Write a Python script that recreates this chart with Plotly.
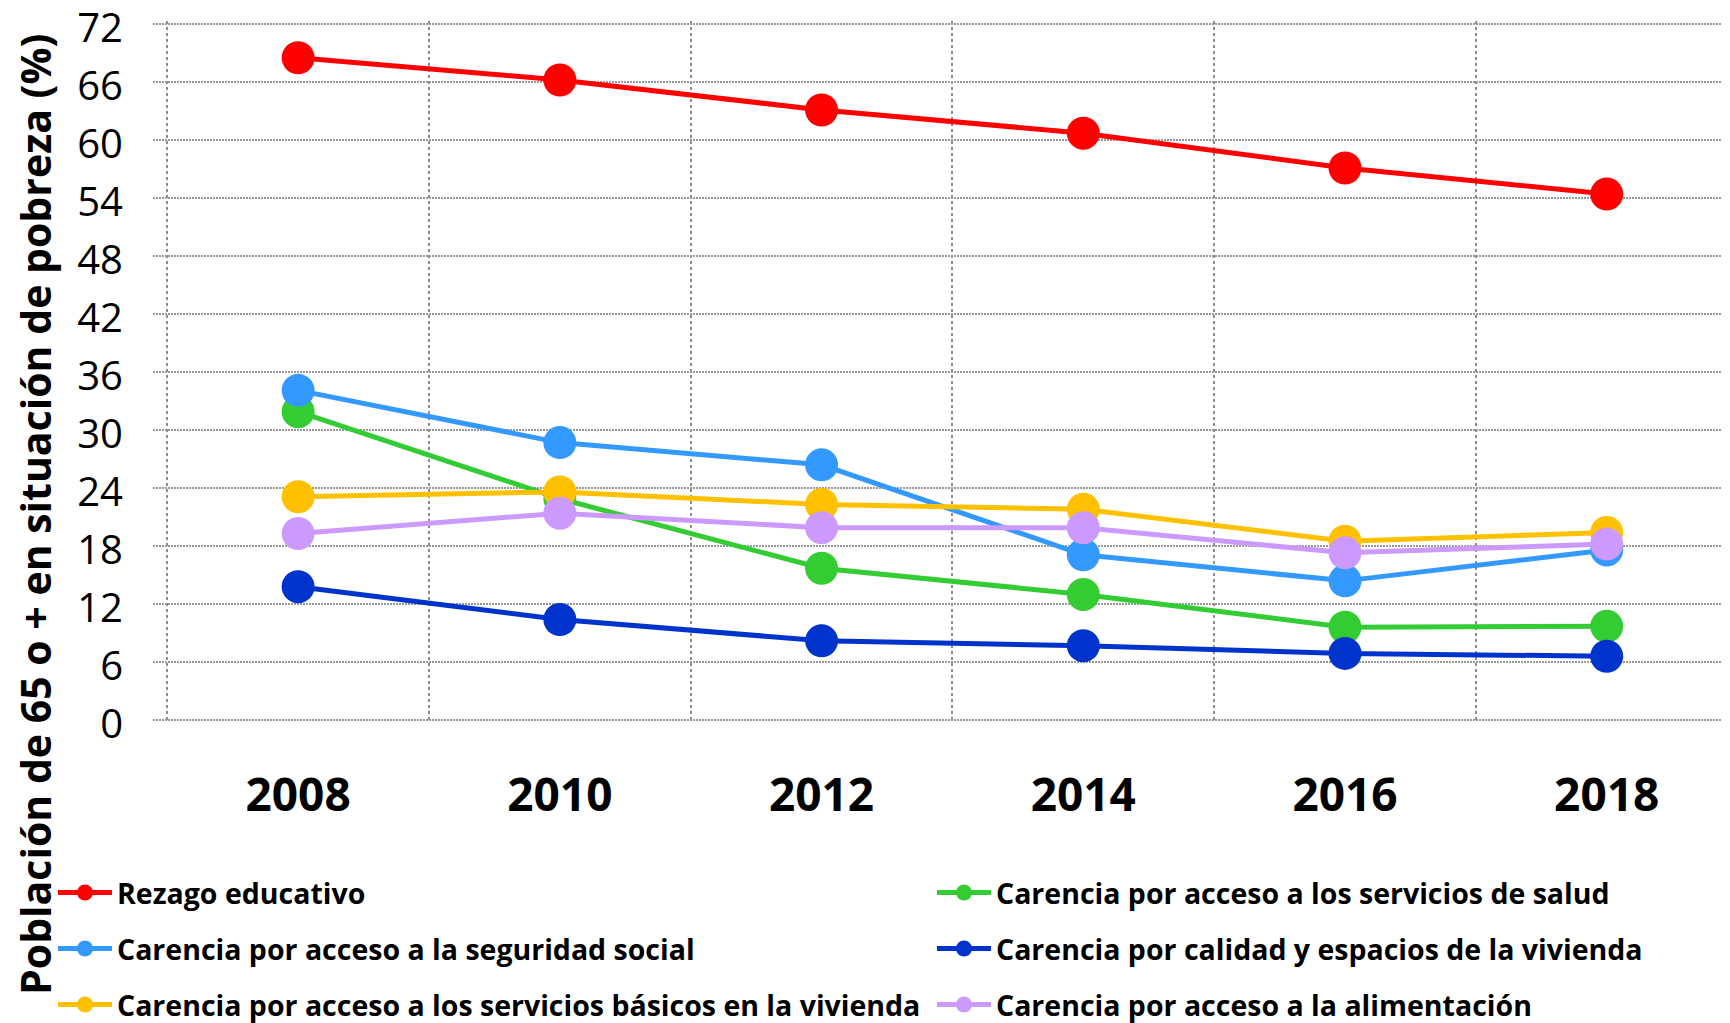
import plotly.graph_objects as go

years = [2008, 2010, 2012, 2014, 2016, 2018]

rezago = [68.5, 66.2, 63.1, 60.7, 57.1, 54.4]
salud = [31.9, 22.9, 15.7, 13.0, 9.6, 9.7]
seguridad = [34.1, 28.7, 26.4, 17.1, 14.4, 17.6]
calidad = [13.8, 10.4, 8.2, 7.7, 6.9, 6.6]
basicos = [23.1, 23.6, 22.3, 21.8, 18.5, 19.4]
alimentacion = [19.3, 21.4, 19.9, 19.9, 17.3, 18.2]

# (name, values, colour, legend column, legend row)
SERIES = [
    ("Rezago educativo", rezago, "#FF0000", 0, 0),
    ("Carencia por acceso a los servicios de salud", salud, "#33CC33", 1, 0),
    ("Carencia por acceso a la seguridad social", seguridad, "#3399FF", 0, 1),
    ("Carencia por calidad y espacios de la vivienda", calidad, "#0033CC", 1, 1),
    ("Carencia por acceso a los servicios básicos en la vivienda", basicos, "#FFC000", 0, 2),
    ("Carencia por acceso a la alimentación", alimentacion, "#CC99FF", 1, 2),
]

FONT = "Open Sans"
W, H = 1730, 1023
# the page adds an 8px body margin, so positions below are page minus 8
LEG_X = [45, 924]
LEG_Y = [885, 941, 997]

fig = go.Figure()
legends = {}
for i, (name, vals, color, col, row) in enumerate(SERIES):
    key = "legend" if i == 0 else f"legend{i + 1}"
    fig.add_trace(go.Scatter(
        x=years, y=vals, name=name, mode="lines+markers",
        line=dict(color=color, width=5),
        marker=dict(color=color, size=33),
        legend=key,
    ))
    legends[key] = dict(
        xref="container", yref="container",
        x=LEG_X[col] / W, y=(H - LEG_Y[row]) / H,
        xanchor="left", yanchor="middle",
        font=dict(family=FONT, size=28.5, color="black", weight="bold"),
        itemwidth=54, bgcolor="rgba(0,0,0,0)", itemsizing="trace",
    )

fig.update_layout(
    width=W, height=H,
    margin=dict(l=145, r=8, t=13, b=308, autoexpand=False),
    plot_bgcolor="white", paper_bgcolor="white",
    font=dict(family=FONT, color="black"),
    xaxis=dict(
        range=[2006.891, 2018.942], tickvals=years, showgrid=False,
        zeroline=False, showline=False, ticks="",
        tickfont=dict(family=FONT, size=46, weight="bold"),
        ticklabelstandoff=41,
        minor=dict(tick0=2007, dtick=2, showgrid=True, gridcolor="#8c8c8c",
                   gridwidth=1.5, griddash="3px,3px"),
    ),
    yaxis=dict(
        range=[-0.3, 72.3], tickvals=list(range(0, 73, 6)), showgrid=True,
        gridcolor="#999999", gridwidth=2, griddash="2px,1px",
        zeroline=False, showline=False,
        ticks="", tickfont=dict(family=FONT, size=40),
        ticklabelstandoff=29, ticklabelshift=4, ticklabeloverflow="allow",
    ),
    annotations=[dict(
        text="<b>Población de 65 o + en situación de pobreza (%)</b>",
        textangle=-90, xref="paper", yref="paper",
        x=-145 / 1577, y=(712 - 504) / 702,
        xanchor="left", yanchor="middle", showarrow=False, xshift=-3,
        font=dict(family=FONT, size=41, color="black"),
    )],
    showlegend=True,
)
fig.update_layout(**legends)

fig.write_html("out.html")
